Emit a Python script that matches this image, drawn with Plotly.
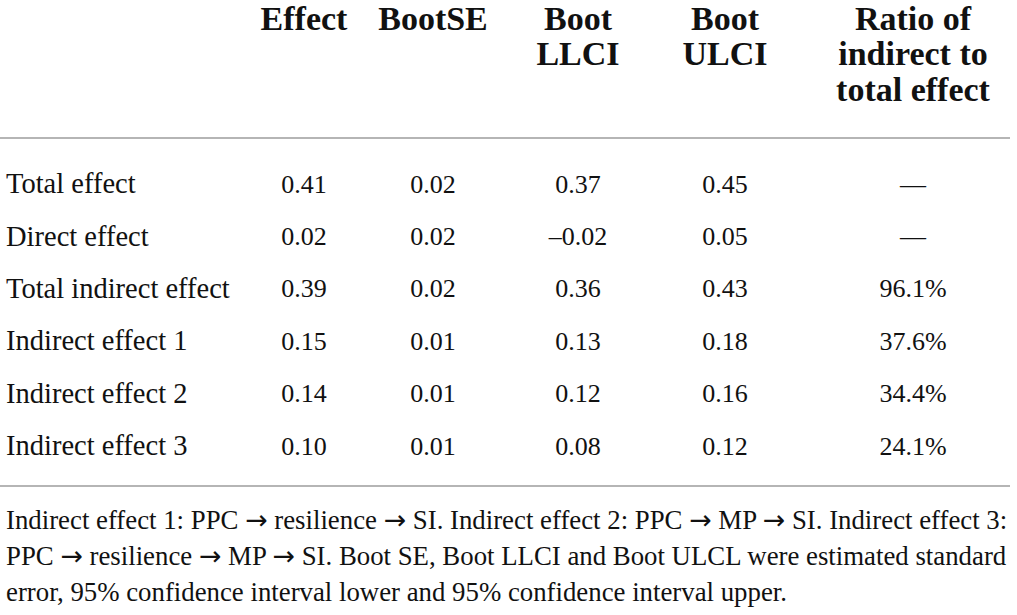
import plotly.graph_objects as go

# table content
row_labels = ["Total effect", "Direct effect", "Total indirect effect",
              "Indirect effect 1", "Indirect effect 2", "Indirect effect 3"]
effect = ["0.41", "0.02", "0.39", "0.15", "0.14", "0.10"]
boot_se = ["0.02", "0.02", "0.02", "0.01", "0.01", "0.01"]
boot_llci = ["0.37", "–0.02", "0.36", "0.13", "0.12", "0.08"]
boot_ulci = ["0.45", "0.05", "0.43", "0.18", "0.16", "0.12"]
ratio = ["—", "—", "96.1%", "37.6%", "34.4%", "24.1%"]

header_lines = [
    ["Effect"],
    ["BootSE"],
    ["Boot", "LLCI"],
    ["Boot", "ULCI"],
    ["Ratio of", "indirect to", "total effect"],
]

ARROW = '<span style="font-family:DejaVu Sans">→</span>'
footnote_lines = [
    "Indirect effect 1: PPC {a} resilience {a} SI. Indirect effect 2: PPC {a} MP {a} SI. Indirect effect 3:",
    "PPC {a} resilience {a} MP {a} SI. Boot SE, Boot LLCI and Boot ULCL were estimated standard",
    "error, 95% confidence interval lower and 95% confidence interval upper.",
]

# layout (pixel coordinates)
W, H = 1017, 615
col_x = [304, 433, 578, 725, 913]
label_x = 6
header_y0, header_dy = 21, 35.5
row_y0, row_dy = 186, 52.4
foot_y0, foot_dy = 522, 36
rule_y = [138, 486]

SERIF = "Liberation Serif"
INK = "#111111"
columns = [effect, boot_se, boot_llci, boot_ulci, ratio]

fig = go.Figure()

# header (bold, one point per line)
hx, hy, ht = [], [], []
for cx, lines in zip(col_x, header_lines):
    for i, line in enumerate(lines):
        hx.append(cx)
        hy.append(header_y0 + i * header_dy)
        ht.append("<b>" + line + "</b>")
fig.add_trace(go.Scatter(
    x=hx, y=hy, text=ht, mode="text", textposition="middle center",
    textfont=dict(family=SERIF, size=34, color=INK),
    hoverinfo="skip", showlegend=False
))

# row labels
row_y = [row_y0 + i * row_dy for i in range(len(row_labels))]
fig.add_trace(go.Scatter(
    x=[label_x] * len(row_labels), y=row_y, text=row_labels,
    mode="text", textposition="middle right",
    textfont=dict(family=SERIF, size=28.5, color=INK),
    hoverinfo="skip", showlegend=False
))

# cell values
for cx, vals in zip(col_x, columns):
    fig.add_trace(go.Scatter(
        x=[cx] * len(vals), y=row_y, text=vals,
        mode="text", textposition="middle center",
        textfont=dict(family=SERIF, size=26, color=INK),
        hoverinfo="skip", showlegend=False
    ))

# footnote
fig.add_trace(go.Scatter(
    x=[label_x] * len(footnote_lines),
    y=[foot_y0 + i * foot_dy for i in range(len(footnote_lines))],
    text=[s.format(a=ARROW) for s in footnote_lines],
    mode="text", textposition="middle right",
    textfont=dict(family=SERIF, size=26.8, color=INK),
    hoverinfo="skip", showlegend=False
))

for ry in rule_y:
    fig.add_shape(type="line", x0=0, x1=1010, y0=ry, y1=ry,
                  line=dict(color="#b5b5b5", width=2))

fig.update_layout(
    width=W, height=H,
    margin=dict(l=0, r=0, t=0, b=0),
    paper_bgcolor="white", plot_bgcolor="white",
    xaxis=dict(range=[0, W], visible=False, fixedrange=True),
    yaxis=dict(range=[H, 0], visible=False, fixedrange=True),
)

fig.write_html("out.html", config={"displayModeBar": False},
               post_script="document.body.style.margin='0';")
